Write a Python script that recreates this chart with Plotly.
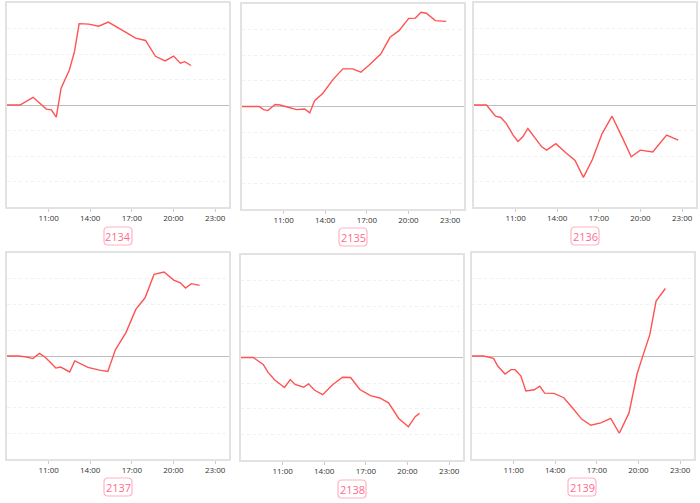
import pandas as pd
import plotly.graph_objects as go

# ---- data (hour of day, relative value; 1 unit = one grid band) ----
names = ["2134", "2135", "2136", "2137", "2138", "2139"]

t2134 = ["08:00","08:56","09:53","10:30","10:50","11:12","11:33","11:54","12:30","12:52","13:12","13:54",
         "14:36","15:18","15:57","16:40","17:16","17:59","18:42","19:24","20:00","20:30","20:48","21:16"]
v2134 = [0, 0, 0.30, 0.01, -0.16, -0.19, -0.48, 0.66, 1.38, 2.10, 3.19, 3.17,
         3.09, 3.25, 3.06, 2.82, 2.62, 2.53, 1.91, 1.73, 1.92, 1.64, 1.70, 1.55]

t2135 = ["08:00","09:14","09:33","09:52","10:23","10:44","11:20","11:56","12:31","12:53","13:14","13:50",
         "14:33","15:16","15:59","16:34","17:10","18:00","18:40","19:19","20:01","20:30","20:54","21:17","21:56","22:43"]
v2135 = [0, 0, -0.12, -0.16, 0.08, 0.06, -0.03, -0.12, -0.10, -0.25, 0.23, 0.52,
         1.05, 1.47, 1.47, 1.34, 1.62, 2.05, 2.70, 2.96, 3.44, 3.45, 3.68, 3.64, 3.35, 3.32]

t2136 = ["08:00","08:54","09:33","09:56","10:20","10:49","11:10","11:31","11:53","12:22","12:53","13:14",
         "13:54","14:37","15:17","15:53","16:31","17:14","17:57","18:40","19:20","19:59","20:53","21:53","22:43"]
v2136 = [0, 0, -0.44, -0.49, -0.73, -1.18, -1.43, -1.25, -0.92, -1.27, -1.64, -1.77,
         -1.52, -1.87, -2.17, -2.84, -2.16, -1.12, -0.44, -1.25, -2.03, -1.77, -1.84, -1.18, -1.38]

t2137 = ["08:00","08:50","09:26","09:52","10:20","10:44","11:06","11:31","11:52","12:14","12:31","12:53",
         "13:22","13:50","14:40","15:16","15:49","16:34","17:17","17:57","18:36","19:19","20:01","20:30","20:52","21:17","21:53"]
v2137 = [0, 0, -0.04, -0.10, 0.10, -0.04, -0.23, -0.47, -0.43, -0.53, -0.62, -0.19,
         -0.31, -0.44, -0.55, -0.60, 0.25, 0.90, 1.81, 2.26, 3.17, 3.26, 2.95, 2.84, 2.64, 2.81, 2.74]

t2138 = ["08:00","08:53","09:36","09:57","10:26","11:08","11:33","11:54","12:31","12:52","13:17","13:53",
         "14:36","15:19","15:54","16:34","17:20","18:00","18:38","19:22","20:04","20:33","20:52"]
v2138 = [0, 0, -0.27, -0.58, -0.88, -1.17, -0.86, -1.05, -1.16, -1.03, -1.27, -1.45,
         -1.06, -0.77, -0.78, -1.25, -1.49, -1.58, -1.77, -2.38, -2.70, -2.31, -2.18]

t2139 = ["08:00","08:50","09:33","09:52","10:23","10:49","11:06","11:31","11:53","12:29","12:53","13:14",
         "13:54","14:37","15:16","15:54","16:34","17:17","18:00","18:37","19:19","19:54","20:23","20:49","21:16","21:56"]
v2139 = [0, 0, -0.09, -0.40, -0.70, -0.53, -0.53, -0.77, -1.36, -1.31, -1.17, -1.44,
         -1.45, -1.62, -2.03, -2.45, -2.69, -2.60, -2.42, -3.00, -2.21, -0.69, 0.12, 0.83, 2.13, 2.62]

times = [t2134, t2135, t2136, t2137, t2138, t2139]
values = [v2134, v2135, v2136, v2137, v2138, v2139]

tick_labels = ["11:00", "14:00", "17:00", "20:00", "23:00"]

# ---- layout (pixel boxes of each panel) ----
W, H = 700, 503
boxes = [  # x0, x1, y0(top), y1(bottom)
    (7, 229, 3, 207),
    (242, 464, 4, 209),
    (474, 696, 3, 207),
    (7, 229, 253, 459),
    (241, 463, 255, 460),
    (472, 694, 253, 459),
]
label_pos = [(118, 236), (353, 237), (585, 236), (118, 487), (352, 489), (582, 487)]
LW, LH, R = 28, 18, 4  # label box size / corner radius (px)

def px(x):
    return x / W

def py(y):
    return 1 - y / H

def rounded_rect(cx, cy):
    x0, x1 = cx - LW / 2, cx + LW / 2
    y0, y1 = cy - LH / 2, cy + LH / 2
    pts = [
        f"M{px(x0 + R)},{py(y0)}", f"L{px(x1 - R)},{py(y0)}",
        f"Q{px(x1)},{py(y0)} {px(x1)},{py(y0 + R)}", f"L{px(x1)},{py(y1 - R)}",
        f"Q{px(x1)},{py(y1)} {px(x1 - R)},{py(y1)}", f"L{px(x0 + R)},{py(y1)}",
        f"Q{px(x0)},{py(y1)} {px(x0)},{py(y1 - R)}", f"L{px(x0)},{py(y0 + R)}",
        f"Q{px(x0)},{py(y0)} {px(x0 + R)},{py(y0)}", "Z",
    ]
    return " ".join(pts)

day = "2024-01-01 "
fig = go.Figure()
for i in range(6):
    ax = "" if i == 0 else str(i + 1)
    x = pd.to_datetime([day + t for t in times[i]])
    fig.add_trace(go.Scatter(
        x=x, y=values[i], mode="lines",
        line=dict(color="#ff5252", width=1.4),
        xaxis="x" + ax, yaxis="y" + ax, showlegend=False, hoverinfo="skip"))
    x0, x1, y0, y1 = boxes[i]
    fig.layout["xaxis" + ax] = dict(
        domain=[x0 / W, min(x1 / W, 1)], anchor="y" + ax, type="date",
        range=[day + "08:00", "2024-01-02 00:00"],
        tickvals=[day + t for t in tick_labels], ticktext=tick_labels,
        showgrid=False, zeroline=False,
        showline=True, mirror=True, linecolor="#e2e2e2", linewidth=1.5,
        ticks="outside", ticklen=3, tickcolor="#cccccc",
        tickfont=dict(size=8, color="#333333", family="Open Sans"),
        automargin=False, fixedrange=True)
    fig.layout["yaxis" + ax] = dict(
        domain=[1 - y1 / H, 1 - y0 / H], anchor="x" + ax,
        range=[-4, 4], dtick=1, showticklabels=False,
        showgrid=True, gridcolor="#f0f0f0", griddash="dot", gridwidth=1,
        zeroline=True, zerolinecolor="#bdbdbd", zerolinewidth=1.2,
        showline=True, mirror=True, linecolor="#e2e2e2", linewidth=1.5,
        ticks="", automargin=False, fixedrange=True)
    lx, ly = label_pos[i]
    fig.add_shape(type="path", xref="paper", yref="paper",
                  path=rounded_rect(lx, ly),
                  line=dict(color="#ffb3c6", width=1.2), fillcolor="white")
    fig.add_annotation(
        x=px(lx), y=py(ly), xref="paper", yref="paper",
        xanchor="center", yanchor="middle",
        text=names[i], showarrow=False,
        font=dict(size=11, color="#ff6b8e", family="Open Sans"))

fig.update_layout(
    width=W, height=H, margin=dict(l=0, r=0, t=0, b=0, pad=0),
    paper_bgcolor="white", plot_bgcolor="white")

fig.write_html("out.html", config={"displayModeBar": False},
               post_script="document.body.style.margin='0';document.body.style.overflow='hidden';")
